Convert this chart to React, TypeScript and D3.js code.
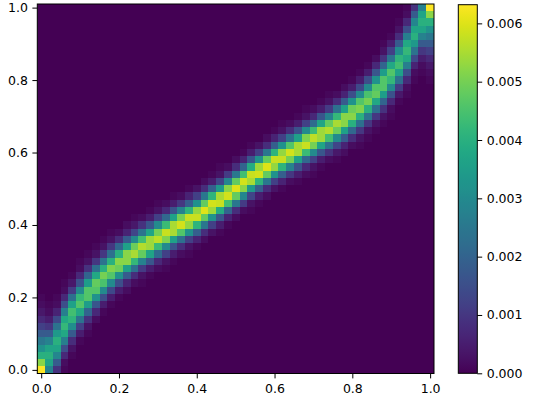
import React, { useEffect, useRef } from 'react';
import * as d3 from 'd3';

// cell centres on both axes (0, 0.02, ... 1.0)
const gridCenters = d3.range(51).map(i => i / 50);

// first non-zero row of every column (row index into gridCenters)
const bandFirstRow = [
  0, 0, 0, 0, 2, 4, 5, 7, 8, 9, 10, 11, 12, 12, 13, 14, 14, 15, 16, 16, 17, 18, 19, 19, 20,
  21, 22, 22, 23, 24, 25, 25, 26, 26, 27, 27, 28, 29, 29, 30, 31, 31, 32, 33, 34, 35, 37, 38, 40, 41, 40,
];

// values of each column going up from bandFirstRow, in units of 1e-4
const bandValues = [
  [63.2, 52, 40, 32, 25, 18, 12, 7, 4, 2, 1],
  [28, 37, 40, 37, 28, 18, 10, 5, 2, 1],
  [9, 18, 29, 37, 40, 34, 24, 14, 6, 2, 1],
  [1, 2, 7, 15, 27, 38, 42, 38, 27, 15, 7, 2, 1],
  [1, 3, 8, 18, 31, 41, 44, 36, 23, 11, 4, 1],
  [1, 5, 12, 24, 38, 46, 42, 30, 16, 7, 2, 1],
  [1, 3, 9, 20, 35, 46, 46, 35, 20, 9, 3, 1],
  [2, 7, 17, 32, 46, 48, 38, 23, 10, 3, 1],
  [1, 5, 15, 30, 45, 50, 40, 24, 10, 3, 1],
  [1, 5, 14, 30, 46, 51, 40, 23, 10, 3, 1],
  [1, 5, 15, 32, 49, 52, 40, 21, 8, 2],
  [2, 6, 18, 36, 52, 52, 36, 18, 6, 2],
  [2, 8, 23, 42, 55, 49, 30, 13, 4, 1],
  [1, 3, 11, 28, 48, 56, 44, 24, 9, 2],
  [1, 5, 17, 37, 54, 54, 37, 17, 5, 1],
  [2, 7, 22, 43, 57, 50, 30, 12, 3, 1],
  [1, 3, 12, 30, 51, 58, 43, 21, 7, 2],
  [1, 5, 16, 36, 55, 55, 36, 16, 5, 1],
  [2, 8, 23, 46, 59, 50, 28, 10, 2],
  [1, 3, 12, 32, 53, 58, 41, 19, 6, 1],
  [1, 6, 19, 41, 58, 53, 32, 12, 3],
  [2, 8, 25, 48, 60, 48, 25, 8, 2],
  [3, 12, 32, 54, 59, 41, 19, 5, 1],
  [1, 5, 17, 39, 58, 55, 34, 13, 3, 1],
  [1, 6, 20, 44, 59, 52, 29, 11, 2],
  [2, 8, 25, 48, 60, 48, 25, 8, 2],
  [2, 11, 29, 52, 59, 44, 20, 6, 1],
  [1, 3, 13, 34, 55, 58, 39, 17, 5, 1],
  [1, 5, 19, 41, 59, 54, 32, 12, 3],
  [2, 8, 25, 48, 60, 48, 25, 8, 2],
  [3, 12, 32, 53, 58, 41, 19, 6, 1],
  [1, 6, 19, 41, 58, 53, 32, 12, 3, 1],
  [2, 10, 28, 50, 59, 46, 23, 8, 2],
  [1, 5, 16, 36, 55, 55, 36, 16, 5, 1],
  [2, 7, 21, 43, 58, 51, 30, 12, 3, 1],
  [1, 3, 12, 30, 50, 57, 43, 22, 7, 2],
  [1, 5, 17, 37, 54, 54, 37, 17, 5, 1],
  [2, 9, 24, 44, 56, 48, 28, 11, 3, 1],
  [1, 4, 13, 30, 49, 55, 42, 23, 8, 2],
  [2, 6, 18, 36, 52, 52, 36, 18, 6, 2],
  [2, 8, 21, 40, 52, 49, 32, 15, 5, 1],
  [1, 3, 10, 23, 40, 51, 46, 30, 14, 5, 1],
  [1, 3, 10, 24, 40, 50, 45, 30, 15, 5, 1],
  [1, 3, 10, 23, 38, 48, 46, 32, 17, 7, 2],
  [1, 3, 9, 20, 35, 46, 46, 35, 20, 9, 3, 1],
  [1, 2, 7, 16, 30, 42, 46, 38, 24, 12, 5, 1],
  [1, 4, 11, 23, 36, 44, 41, 31, 18, 8, 3, 1],
  [1, 2, 7, 15, 27, 38, 42, 38, 27, 15, 7, 2, 1],
  [1, 2, 6, 14, 24, 34, 40, 37, 29, 18, 9],
  [1, 2, 5, 10, 18, 28, 37, 40, 37, 28],
  [1, 2, 4, 7, 12, 18, 25, 32, 40, 52, 63.2],
];

const axisTicks = [0, 0.2, 0.4, 0.6, 0.8, 1.0];
const colorbarTicks = [0, 0.001, 0.002, 0.003, 0.004, 0.005, 0.006];
const vmax = 0.00632;

const FONT = '"DejaVu Sans", sans-serif';

const App = () => {
  const svgRef = useRef(null);

  useEffect(() => {
    const svg = d3.select(svgRef.current);
    svg.selectAll('*').remove();

    const plot = { left: 37.3, right: 434, top: 4, bottom: 373.5 };
    const cbar = { left: 458.3, right: 477.3, top: 4.7, bottom: 373.3 };

    const x = d3.scaleLinear().domain([-0.01, 1.01]).range([plot.left, plot.right]);
    const y = d3.scaleLinear().domain([-0.01, 1.01]).range([plot.bottom, plot.top]);
    const color = d3.scaleSequential(d3.interpolateViridis).domain([0, vmax]);

    // empty cells
    svg.append('rect')
      .attr('x', plot.left).attr('y', plot.top)
      .attr('width', plot.right - plot.left).attr('height', plot.bottom - plot.top)
      .attr('fill', color(0));

    const cells = [];
    bandValues.forEach((col, i) => {
      col.forEach((v, k) => {
        cells.push({ cx: gridCenters[i], cy: gridCenters[bandFirstRow[i] + k], v: v * 1e-4 });
      });
    });

    const half = 0.01;
    svg.append('g')
      .selectAll('rect')
      .data(cells)
      .join('rect')
      .attr('x', d => x(d.cx - half))
      .attr('y', d => y(d.cy + half))
      .attr('width', d => x(d.cx + half) - x(d.cx - half))
      .attr('height', d => y(d.cy - half) - y(d.cy + half))
      .attr('fill', d => color(d.v))
      .attr('shape-rendering', 'crispEdges');

    // frame
    svg.append('rect')
      .attr('x', plot.left).attr('y', plot.top)
      .attr('width', plot.right - plot.left).attr('height', plot.bottom - plot.top)
      .attr('fill', 'none').attr('stroke', '#000').attr('stroke-width', 1);

    const styleAxis = g => {
      g.select('.domain').remove();
      g.selectAll('line').attr('stroke', '#000').attr('stroke-width', 1);
      g.selectAll('text').attr('fill', '#000').style('font-family', FONT).style('font-size', '12.5px');
    };

    svg.append('g')
      .attr('transform', `translate(0,${plot.bottom})`)
      .call(d3.axisBottom(x).tickValues(axisTicks).tickSize(4.9).tickPadding(5.5).tickFormat(d3.format('.1f')))
      .call(styleAxis);

    svg.append('g')
      .attr('transform', `translate(${plot.left},0)`)
      .call(d3.axisLeft(y).tickValues(axisTicks).tickSize(4.9).tickPadding(4.5).tickFormat(d3.format('.1f')))
      .call(styleAxis);

    // colorbar
    const grad = svg.append('defs').append('linearGradient')
      .attr('id', 'viridis-bar')
      .attr('x1', 0).attr('y1', 1).attr('x2', 0).attr('y2', 0);
    d3.range(0, 1.0001, 0.02).forEach(t => {
      grad.append('stop').attr('offset', t).attr('stop-color', d3.interpolateViridis(t));
    });

    svg.append('rect')
      .attr('x', cbar.left).attr('y', cbar.top)
      .attr('width', cbar.right - cbar.left).attr('height', cbar.bottom - cbar.top)
      .attr('fill', 'url(#viridis-bar)')
      .attr('stroke', '#000').attr('stroke-width', 1);

    const cy = d3.scaleLinear().domain([0, vmax]).range([cbar.bottom, cbar.top]);
    svg.append('g')
      .attr('transform', `translate(${cbar.right},0)`)
      .call(d3.axisRight(cy).tickValues(colorbarTicks).tickSize(4.9).tickPadding(4.5).tickFormat(d3.format('.3f')))
      .call(styleAxis);
  }, []);

  return (
    <svg
      ref={svgRef}
      width={536}
      height={407}
      style={{ position: 'absolute', left: 0, top: 0, background: '#fff' }}
    />
  );
};

export default App;
